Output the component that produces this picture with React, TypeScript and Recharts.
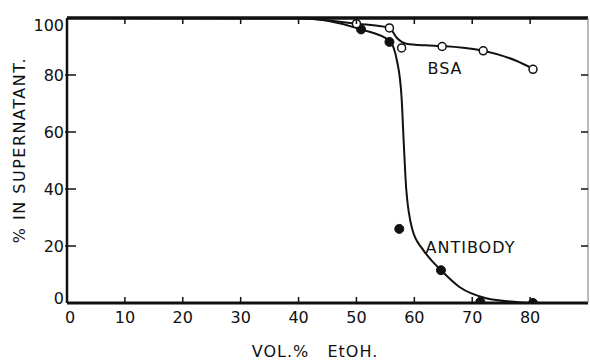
import React from 'react'
import { ComposedChart, Line, XAxis, YAxis, ReferenceDot } from 'recharts'

// Ethanol fractionation: % of protein left in supernatant vs vol.% EtOH.
const VOL_TICKS = [0, 10, 20, 30, 40, 50, 60, 70, 80]
const PCT_TICKS = [0, 20, 40, 60, 80, 100]

const BSA_X = [50, 55.7, 57.8, 64.8, 71.9, 80.5]
const BSA_Y = [98, 96.5, 89.5, 90, 88.5, 82]
const AB_X = [50.8, 55.7, 57.4, 64.6, 71.4, 80.5]
const AB_Y = [96, 91.6, 26, 11.5, 0.4, 0]

// hand-drawn fitted curves
const BSA_CURVE_X = [0, 40, 50, 55.7, 57, 58.6, 62, 64.8, 71.9, 77.6, 80.5]
const BSA_CURVE_Y = [100, 99.8, 98, 96.5, 93, 91, 90.4, 90.2, 88.5, 85, 82.2]
const AB_CURVE_X = [0, 40, 45, 50.8, 55.7, 57, 57.8, 58.2, 58.6, 59.7, 61.4, 63.4, 64.6, 67.8, 72.4, 78, 80.5]
const AB_CURVE_Y = [100, 100, 99, 96, 92, 85, 72, 55, 40, 25.5, 19, 14, 11.5, 5.6, 1.7, 0.3, 0]

const LABELS = ['BSA', 'ANTIBODY']
const LABEL_X = [65.3, 69.7]
const LABEL_Y = [82.5, 19.6]

const INK = '#111'
const FONT = '"DejaVu Sans", sans-serif'

const zip = (xs: number[], ys: number[]) => xs.map((x, i) => ({ x, y: ys[i] }))

const bsaCurve = zip(BSA_CURVE_X, BSA_CURVE_Y)
const abCurve = zip(AB_CURVE_X, AB_CURVE_Y)
const bsaPts = zip(BSA_X, BSA_Y)
const abPts = zip(AB_X, AB_Y)

function BottomTick({ x, y, payload }: any) {
  return (
    <g>
      <line x1={x} y1={y} x2={x} y2={y - 6} stroke={INK} strokeWidth={1.5} />
      <text x={payload.value === 0 ? x + 3 : x} y={y + 20} textAnchor="middle" fontSize={16} fill={INK} fontFamily={FONT}>
        {payload.value}
      </text>
    </g>
  )
}

function TopTick({ x, y }: any) {
  return <line x1={x} y1={y} x2={x} y2={y + 6} stroke={INK} strokeWidth={1.5} />
}

function LeftTick({ x, y, payload }: any) {
  const v = payload.value
  const dy = v === 0 ? -5 : v === 100 ? 7 : 0
  return (
    <g>
      {v !== 0 && v !== 100 && <line x1={x - 2} y1={y} x2={x + 9} y2={y} stroke={INK} strokeWidth={1.5} />}
      <text x={x - 3} y={y + dy + 6} textAnchor="end" fontSize={16} fill={INK} fontFamily={FONT}>
        {v}
      </text>
    </g>
  )
}

function RightTick({ x, y, payload }: any) {
  if (payload.value === 0 || payload.value === 100) return null
  // x arrives on the label side of the axis; draw the tick back inward
  return <line x1={x} y1={y} x2={x - 7} y2={y} stroke={INK} strokeWidth={1.5} />
}

const openDot = { r: 4, fill: '#fff', stroke: INK, strokeWidth: 1.5 }
const filledDot = { r: 4.5, fill: INK, stroke: INK, strokeWidth: 1 }

export default function App() {
  return (
    <div style={{ position: 'absolute', left: 0, top: 0, width: 590, height: 361, background: '#fff', fontFamily: FONT }}>
      <ComposedChart width={590} height={361} margin={{ top: 17, right: 0, bottom: 28, left: 0 }}>
        <XAxis
          xAxisId="b"
          orientation="bottom"
          type="number"
          dataKey="x"
          domain={[0, 90]}
          ticks={VOL_TICKS}
          allowDataOverflow
          tickSize={0}
          tickMargin={0}
          tickLine={false}
          tick={<BottomTick />}
          axisLine={{ stroke: INK, strokeWidth: 3 }}
          height={30}
        />
        <XAxis
          xAxisId="t"
          orientation="top"
          type="number"
          dataKey="x"
          domain={[0, 90]}
          ticks={VOL_TICKS.slice(1)}
          allowDataOverflow
          tickSize={0}
          tickMargin={0}
          tickLine={false}
          tick={<TopTick />}
          axisLine={{ stroke: INK, strokeWidth: 3.5 }}
          height={1}
        />
        <YAxis
          yAxisId="l"
          type="number"
          domain={[0, 100]}
          ticks={PCT_TICKS}
          allowDataOverflow
          width={67}
          tickSize={0}
          tickMargin={0}
          tickLine={false}
          tick={<LeftTick />}
          axisLine={{ stroke: INK, strokeWidth: 2.5 }}
        />
        <YAxis
          yAxisId="r"
          orientation="right"
          type="number"
          domain={[0, 100]}
          ticks={PCT_TICKS}
          allowDataOverflow
          width={2}
          tickSize={0}
          tickMargin={0}
          tickLine={false}
          tick={<RightTick />}
          axisLine={{ stroke: '#777', strokeWidth: 1 }}
        />

        <Line xAxisId="b" yAxisId="l" data={bsaCurve} dataKey="y" type="monotone" stroke={INK} strokeWidth={2} dot={false} isAnimationActive={false} />
        <Line xAxisId="b" yAxisId="l" data={abCurve} dataKey="y" type="monotone" stroke={INK} strokeWidth={2} dot={false} isAnimationActive={false} />
        <Line xAxisId="b" yAxisId="l" data={abPts} dataKey="y" stroke="none" dot={filledDot} activeDot={false} isAnimationActive={false} />
        <Line xAxisId="b" yAxisId="l" data={bsaPts} dataKey="y" stroke="none" dot={openDot} activeDot={false} isAnimationActive={false} />

        {LABELS.map((t, i) => (
          <ReferenceDot
            key={t}
            xAxisId="b"
            yAxisId="l"
            x={LABEL_X[i]}
            y={LABEL_Y[i]}
            r={0}
            stroke="none"
            fill="none"
            label={{ value: t, position: 'center', fontSize: 16, fill: INK, fontFamily: FONT, letterSpacing: 1 }}
          />
        ))}
      </ComposedChart>

      <div
        style={{
          position: 'absolute',
          left: 20 - 130,
          top: 150 - 10,
          width: 260,
          height: 20,
          lineHeight: '20px',
          textAlign: 'center',
          transform: 'rotate(-90deg)',
          whiteSpace: 'nowrap',
          fontSize: 16,
          letterSpacing: 1.5,
          color: INK,
        }}
      >
        % IN SUPERNATANT.
      </div>
      <div
        style={{
          position: 'absolute',
          left: 315 - 100,
          top: 352 - 10,
          width: 200,
          height: 20,
          lineHeight: '20px',
          textAlign: 'center',
          whiteSpace: 'pre',
          fontSize: 16,
          letterSpacing: 1,
          color: INK,
        }}
      >
        {'VOL.%   EtOH.'}
      </div>
    </div>
  )
}
